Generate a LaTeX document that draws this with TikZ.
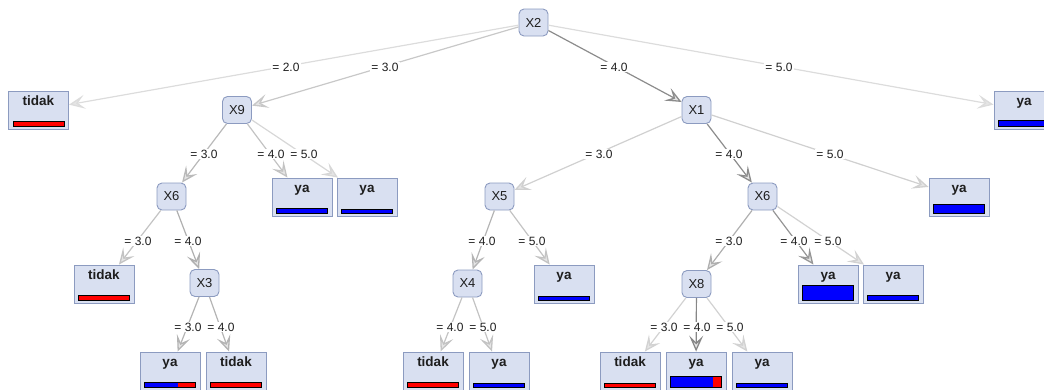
\documentclass[tikz,border=0pt]{standalone}
\usepackage{fontspec}
\setmainfont{Liberation Sans}
\usetikzlibrary{arrows.meta,calc}
\definecolor{nodefill}{RGB}{217,224,241}
\definecolor{nodeline}{RGB}{140,155,192}
\definecolor{txt}{RGB}{30,30,30}
\definecolor{barblue}{RGB}{0,0,255}
\definecolor{barred}{RGB}{255,0,0}
\tikzset{
  inner/.style={draw=nodeline,fill=nodefill,rounded corners=5pt,line width=0.9pt,
    minimum width=29pt,minimum height=27pt,inner sep=0pt,font=\fontsize{13}{15}\selectfont,text=txt},
  leaf/.style={draw=nodeline,fill=nodefill,line width=0.9pt,minimum width=60pt,minimum height=38pt,inner sep=0pt},
  leaftxt/.style={font=\bfseries\fontsize{13.5}{15}\selectfont,text=txt,anchor=base,inner sep=0pt},
  elabel/.style={fill=white,inner sep=1pt,font=\fontsize{12}{14}\selectfont,text=txt},
  edge/.style={line width=1.2pt,-{Stealth[length=16pt,width=14pt,inset=7pt,fill=white!80!gray,line width=1.3pt]}},
}
% \leafbox{name}{x}{y}{label}{blue fraction}{bar height}
\newcommand{\leafbox}[6]{%
  \node[leaf] (#1) at (#2,#3) {};
  \node[leaftxt] (#1t) at ($(#1.north)+(0pt,-15pt)$) {#4};
  \coordinate (#1a) at ($(#1.south west)+(5pt,3.5pt)$);
  \coordinate (#1b) at ($(#1.south east)+(-5pt,3.5pt+#6pt)$);
  \coordinate (#1m) at ($(#1a)!#5!(#1b)$);
  \fill[barred] (#1a) rectangle (#1b);
  \fill[barblue] (#1a) rectangle (#1m|-#1b);
  \draw[line width=0.7pt,black] (#1a) rectangle (#1b);
}
\begin{document}
\begin{tikzpicture}[x=1pt,y=-1pt]
\useasboundingbox (0,0) rectangle (1044,389);
% inner nodes
\node[inner] (X2) at (533.5,22.5) {X2};
\node[inner] (X9) at (237,110) {X9};
\node[inner] (X1) at (696.5,110) {X1};
\node[inner] (X6a) at (171.5,196.5) {X6};
\node[inner] (X5) at (499.5,196.5) {X5};
\node[inner] (X6b) at (762.5,196.5) {X6};
\node[inner] (X3) at (204.5,283) {X3};
\node[inner] (X4) at (467.5,283.5) {X4};
\node[inner] (X8) at (696.5,284) {X8};
% leaves
\leafbox{La}{38.5}{110}{tidak}{0}{5}
\leafbox{Lb}{1024}{110}{ya}{1}{6}
\leafbox{Lc}{302}{197}{ya}{1}{5}
\leafbox{Ld}{367}{197}{ya}{1}{4}
\leafbox{Le}{959}{197}{ya}{1}{9}
\leafbox{Lf}{104}{284}{tidak}{0}{5}
\leafbox{Lg}{564}{284}{ya}{1}{4}
\leafbox{Lh}{828}{284}{ya}{1}{15}
\leafbox{Li}{893}{284}{ya}{1}{5}
\leafbox{Lj}{170}{371}{ya}{0.65}{5}
\leafbox{Lk}{236}{371}{tidak}{0}{5}
\leafbox{Ll}{433}{371}{tidak}{0}{5}
\leafbox{Lm}{499}{371}{ya}{1}{4}
\leafbox{Ln}{630}{371}{tidak}{0}{4}
\leafbox{Lo}{696}{371}{ya}{0.84}{11}
\leafbox{Lp}{762}{371}{ya}{1}{4}
% edges
\draw[edge,color={rgb,255:red,220;green,220;blue,220}] (X2) -- (La);
\draw[edge,color={rgb,255:red,200;green,200;blue,200}] (X2) -- (X9);
\draw[edge,color={rgb,255:red,140;green,140;blue,140}] (X2) -- (X1);
\draw[edge,color={rgb,255:red,220;green,220;blue,220}] (X2) -- (Lb);
\draw[edge,color={rgb,255:red,185;green,185;blue,185}] (X9) -- (X6a);
\draw[edge,color={rgb,255:red,195;green,195;blue,195}] (X9) -- (Lc);
\draw[edge,color={rgb,255:red,215;green,215;blue,215}] (X9) -- (Ld);
\draw[edge,color={rgb,255:red,208;green,208;blue,208}] (X1) -- (X5);
\draw[edge,color={rgb,255:red,140;green,140;blue,140}] (X1) -- (X6b);
\draw[edge,color={rgb,255:red,208;green,208;blue,208}] (X1) -- (Le);
\draw[edge,color={rgb,255:red,195;green,195;blue,195}] (X6a) -- (Lf);
\draw[edge,color={rgb,255:red,175;green,175;blue,175}] (X6a) -- (X3);
\draw[edge,color={rgb,255:red,180;green,180;blue,180}] (X5) -- (X4);
\draw[edge,color={rgb,255:red,195;green,195;blue,195}] (X5) -- (Lg);
\draw[edge,color={rgb,255:red,175;green,175;blue,175}] (X6b) -- (X8);
\draw[edge,color={rgb,255:red,150;green,150;blue,150}] (X6b) -- (Lh);
\draw[edge,color={rgb,255:red,210;green,210;blue,210}] (X6b) -- (Li);
\draw[edge,color={rgb,255:red,180;green,180;blue,180}] (X3) -- (Lj);
\draw[edge,color={rgb,255:red,180;green,180;blue,180}] (X3) -- (Lk);
\draw[edge,color={rgb,255:red,195;green,195;blue,195}] (X4) -- (Ll);
\draw[edge,color={rgb,255:red,195;green,195;blue,195}] (X4) -- (Lm);
\draw[edge,color={rgb,255:red,210;green,210;blue,210}] (X8) -- (Ln);
\draw[edge,color={rgb,255:red,135;green,135;blue,135}] (X8) -- (Lo);
\draw[edge,color={rgb,255:red,210;green,210;blue,210}] (X8) -- (Lp);
% edge labels
\node[elabel] (e1) at (286,67) {= 2.0};
\node[elabel] (e2) at (385,67) {= 3.0};
\node[elabel] (e3) at (614,67) {= 4.0};
\node[elabel] (e4) at (779,67) {= 5.0};
\node[elabel] (e5) at (204,154) {= 3.0};
\node[elabel] (e6) at (271,154) {= 4.0};
\node[elabel] (e7) at (304,154) {= 5.0};
\node[elabel] (e8) at (599,154) {= 3.0};
\node[elabel] (e9) at (729,154) {= 4.0};
\node[elabel] (e10) at (830,154) {= 5.0};
\node[elabel] (e11) at (138,241) {= 3.0};
\node[elabel] (e12) at (188,241) {= 4.0};
\node[elabel] (e13) at (482,241) {= 4.0};
\node[elabel] (e14) at (532,241) {= 5.0};
\node[elabel] (e15) at (729,241) {= 3.0};
\node[elabel] (e16) at (794,241) {= 4.0};
\node[elabel] (e17) at (828,241) {= 5.0};
\node[elabel] (e18) at (188,327) {= 3.0};
\node[elabel] (e19) at (221,327) {= 4.0};
\node[elabel] (e20) at (450,327) {= 4.0};
\node[elabel] (e21) at (483,327) {= 5.0};
\node[elabel] (e22) at (664,327) {= 3.0};
\node[elabel] (e23) at (697,327) {= 4.0};
\node[elabel] (e24) at (730,327) {= 5.0};
\end{tikzpicture}
\end{document}
